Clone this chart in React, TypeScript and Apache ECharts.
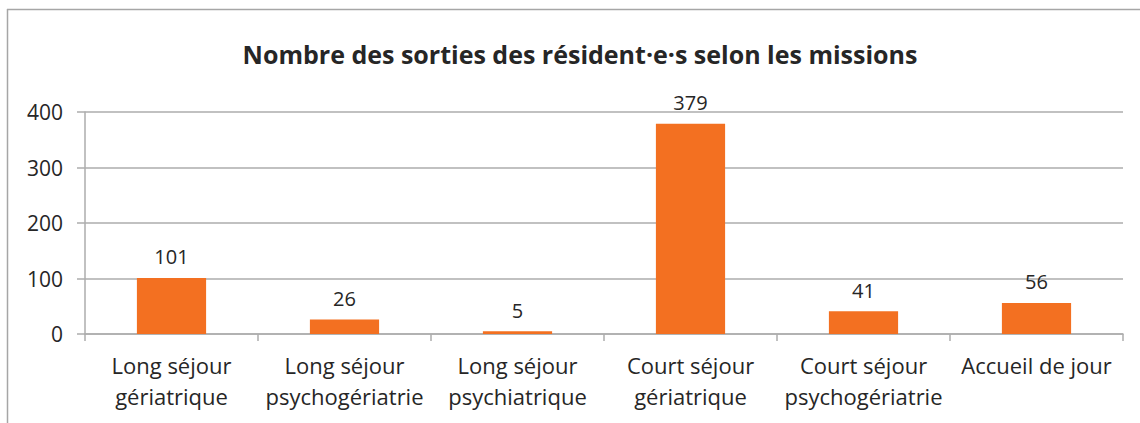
import React, { useEffect, useRef } from "react";
import * as echarts from "echarts";

const title = "Nombre des sorties des résident·e·s selon les missions";
const categories = [
  "Long séjour\ngériatrique",
  "Long séjour\npsychogériatrie",
  "Long séjour\npsychiatrique",
  "Court séjour\ngériatrique",
  "Court séjour\npsychogériatrie",
  "Accueil de jour",
];
const values = [101, 26, 5, 379, 41, 56];
const yTicks = { min: 0, max: 400, interval: 100 };

const FONT = "'Open Sans', 'Noto Sans', sans-serif";
const TEXT = "#262626";
const GRID = "#ADADAD";

export default function App() {
  const ref = useRef<HTMLDivElement>(null);
  useEffect(() => {
    if (!ref.current) return;
    const chart = echarts.init(ref.current, undefined, { renderer: "svg" });
    chart.setOption({
      animation: false,
      textStyle: { fontFamily: FONT },
      title: {
        text: title,
        left: 575,
        top: 36,
        textAlign: "center",
        textStyle: { fontFamily: FONT, fontSize: 25, fontWeight: "bold", color: TEXT },
      },
      graphic: [
        { type: "line", shape: { x1: 7.5, y1: 9, x2: 7.5, y2: 423 }, style: { stroke: "#A6A6A6", lineWidth: 1.5 } },
        { type: "line", shape: { x1: 7, y1: 9.5, x2: 1140, y2: 9.5 }, style: { stroke: "#A6A6A6", lineWidth: 1.5 } },
      ],
      grid: { left: 85, right: 17, top: 112, bottom: 89 },
      xAxis: {
        type: "category",
        data: categories,
        axisLine: { lineStyle: { color: GRID, width: 1.5 } },
        axisTick: { show: true, length: 7, alignWithLabel: false, lineStyle: { color: GRID, width: 1.5 } },
        axisLabel: {
          interval: 0,
          margin: 15,
          fontSize: 22,
          lineHeight: 31,
          color: TEXT,
          fontFamily: FONT,
        },
      },
      yAxis: {
        type: "value",
        min: yTicks.min,
        max: yTicks.max,
        interval: yTicks.interval,
        axisLine: { show: true, lineStyle: { color: GRID, width: 1.5 } },
        axisTick: { show: true, length: 8, lineStyle: { color: GRID, width: 1.5 } },
        splitLine: { show: true, lineStyle: { color: GRID, width: 1.5 } },
        axisLabel: { margin: 22, fontSize: 21, color: TEXT, fontFamily: FONT },
      },
      series: [
        {
          type: "bar",
          data: values,
          barWidth: "40%",
          itemStyle: { color: "#F37021" },
          label: {
            show: true,
            position: "top",
            distance: 11,
            fontSize: 20,
            color: TEXT,
            fontFamily: FONT,
          },
        },
      ],
    });
    return () => chart.dispose();
  }, []);
  return <div ref={ref} style={{ width: 1140, height: 423, position: "absolute", left: 0, top: 0 }} />;
}
